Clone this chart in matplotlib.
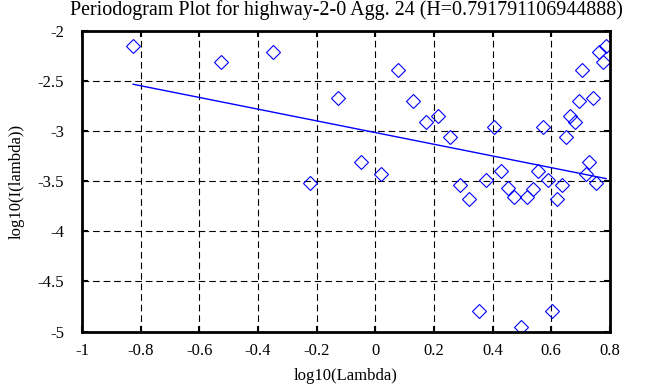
import matplotlib
matplotlib.use("Agg")
import matplotlib.pyplot as plt
import numpy as np

# periodogram points (log10 frequency, log10 power)
log_lambda = [-0.826, -0.526, -0.350, -0.223, -0.126, -0.049, 0.019, 0.076,
              0.128, 0.173, 0.215, 0.253, 0.289, 0.320, 0.352, 0.377, 0.404,
              0.429, 0.452, 0.473, 0.496, 0.517, 0.537, 0.555, 0.571, 0.588,
              0.604, 0.620, 0.637, 0.651, 0.664, 0.680, 0.693, 0.705, 0.719,
              0.730, 0.741, 0.753, 0.762, 0.775, 0.787]
log_power = [-2.152, -2.315, -2.212, -3.517, -2.673, -3.311, -3.430, -2.391,
             -2.697, -2.909, -2.846, -3.062, -3.534, -3.676, -4.799, -3.487,
             -2.956, -3.397, -3.570, -3.656, -4.958, -3.656, -3.577, -3.397,
             -2.956, -3.487, -4.799, -3.676, -3.534, -3.062, -2.846, -2.909,
             -2.697, -2.391, -3.430, -3.311, -2.673, -3.517, -2.212, -2.315,
             -2.152]

# Hurst estimate; the fitted line has slope 1 - 2H
H = 0.791791106944888
fit_intercept = -3.016
title = "Periodogram Plot for highway-2-0 Agg. 24 (H=%s)" % repr(H)

x = np.array(log_lambda)
y = np.array(log_power)
slope = 1 - 2 * H

plt.rcParams['font.family'] = ['Liberation Serif', 'DejaVu Serif']
plt.rcParams['font.size'] = 12

fig = plt.figure(figsize=(6.63, 3.87), dpi=100)
ax = fig.add_axes([0.1237, 0.1434, 0.7963, 0.7773])

ax.plot(x, y, "D", markersize=7.5, markerfacecolor="none",
        markeredgecolor="blue", markeredgewidth=0.8)
xs = np.array([x.min(), x.max()])
ax.plot(xs, slope * xs + fit_intercept, "b-", linewidth=1)

ax.set_xlim(-1, 0.8)
ax.set_ylim(-5, -2)
ax.set_xticks(np.arange(-1, 0.81, 0.2))
ax.set_xticklabels(["-1", "-0.8", "-0.6", "-0.4", "-0.2", "0", "0.2", "0.4", "0.6", "0.8"])
ax.set_yticks(np.arange(-5, -1.99, 0.5))
ax.set_yticklabels(["-5", "-4.5", "-4", "-3.5", "-3", "-2.5", "-2"])
ax.grid(True, color="black", linestyle=(0, (6, 3.5)), linewidth=0.8)
ax.tick_params(direction="in", length=4, width=1.5, top=True, right=True)
ax.tick_params(axis="x", pad=8)
ax.tick_params(axis="y", pad=13)
for s in ax.spines.values():
    s.set_linewidth(2)

ax.set_xlabel("log10(Lambda)", labelpad=7)
ax.set_ylabel("log10(I(lambda))", labelpad=9)
ax.set_title(title, pad=11)

fig.savefig("out.png", dpi=100)
